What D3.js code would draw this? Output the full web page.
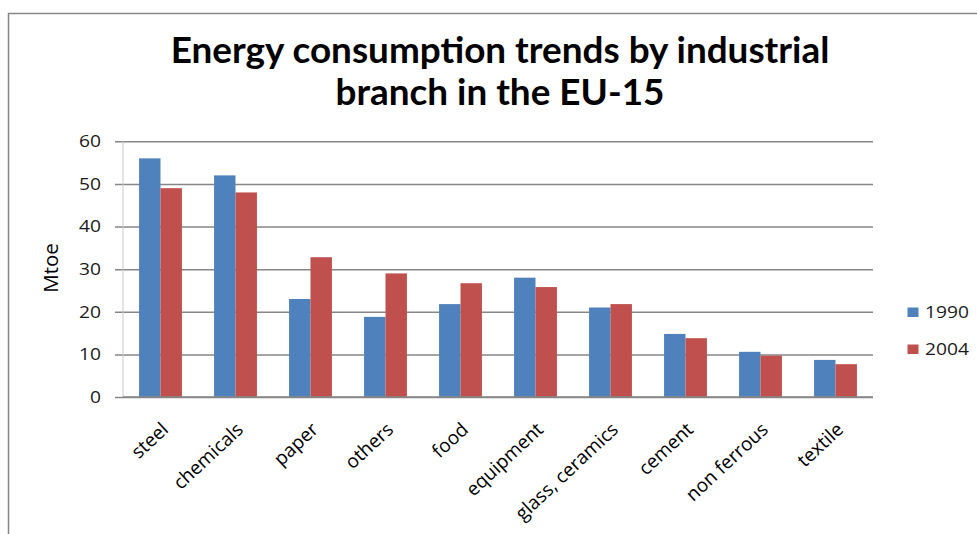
<!DOCTYPE html>
<html>
<head>
<meta charset="utf-8">
<script src="https://cdn.jsdelivr.net/npm/d3@7"></script>
<style>
  html, body { margin: 0; padding: 0; background: #ffffff; }
  svg { display: block; }
</style>
</head>
<body>
<script>
// Energy consumption by industrial branch, EU-15 (Mtoe)
const categories = ["steel", "chemicals", "paper", "others", "food", "equipment",
                    "glass, ceramics", "cement", "non ferrous", "textile"];
const values1990 = [56, 52, 23, 18.8, 21.8, 28, 21, 14.8, 10.6, 8.7];
const values2004 = [49, 48, 32.8, 29, 26.7, 25.8, 21.8, 13.8, 9.7, 7.7];
const seriesNames = ["1990", "2004"];
const yTicks = [0, 10, 20, 30, 40, 50, 60];
const titleLines = ["Energy consumption trends by industrial", "branch in the EU-15"];
const yAxisTitle = "Mtoe";

const W = 977, H = 534;
const colors = ["#4F81BD", "#C0504D"];
const gridColor = "#868686";
const textFont = "'Open Sans', sans-serif";

const svg = d3.select("body").append("svg")
  .attr("width", W).attr("height", H);

// outer chart frame
svg.append("rect")
  .attr("x", 8.5).attr("y", 13.5)
  .attr("width", 1000).attr("height", 600)
  .attr("fill", "#ffffff")
  .attr("stroke", gridColor).attr("stroke-width", 1.5);

// title
const title = svg.append("g");
const titleBaselines = [62.5, 104.5];
titleLines.forEach((t, i) => {
  title.append("text")
    .attr("x", 500).attr("y", titleBaselines[i])
    .attr("text-anchor", "middle")
    .attr("font-family", "Lato, sans-serif")
    .attr("font-weight", "bold")
    .attr("font-size", 31)
    .attr("fill", "#000000")
    .text(t);
});
// fit the first title line to its target width
const firstLine = title.select("text").node();
const w0 = firstLine.getComputedTextLength();
const titleSize = 31 * 659 / w0;
title.selectAll("text").attr("font-size", titleSize);

// plot area
const plot = { left: 123, right: 873, top: 141.3, bottom: 397 };

const x0 = d3.scaleBand()
  .domain(categories)
  .range([plot.left, plot.right])
  .paddingInner(0)
  .paddingOuter(0);

const innerPad = 0.75 / 3.5; // gap of 150% of bar width split on both sides
const x1 = d3.scaleBand()
  .domain(seriesNames)
  .range([x0.bandwidth() * innerPad, x0.bandwidth() * (1 - innerPad)]);

const y = d3.scaleLinear().domain([0, 60]).range([plot.bottom, plot.top]);

// gridlines with outward tick marks
const yAxis = d3.axisLeft(y)
  .tickValues(yTicks)
  .tickSize(-(plot.right - plot.left + 8))
  .tickFormat("");
const gy = svg.append("g")
  .attr("transform", `translate(${plot.left - 8},0)`)
  .call(yAxis);
gy.select(".domain").remove();
gy.selectAll(".tick line")
  .attr("stroke", gridColor).attr("stroke-width", 1.5);

// vertical value axis line
svg.append("line")
  .attr("x1", plot.left).attr("x2", plot.left)
  .attr("y1", plot.top).attr("y2", plot.bottom)
  .attr("stroke", "#c8c8c8").attr("stroke-width", 1);

// y tick labels
yTicks.forEach(v => {
  svg.append("g")
    .attr("transform", `translate(101,${y(v)}) scale(1.2,1)`)
    .append("text")
    .attr("text-anchor", "end")
    .attr("dy", "0.36em")
    .attr("font-family", textFont)
    .attr("font-size", 16)
    .attr("fill", "#1a1a1a")
    .text(v);
});

// y axis title
svg.append("text")
  .attr("transform", `translate(58,268) rotate(-90)`)
  .attr("text-anchor", "middle")
  .attr("font-family", textFont)
  .attr("font-size", 20.5)
  .attr("fill", "#000000")
  .text(yAxisTitle);

// bars
const series = [values1990, values2004];
const groups = svg.append("g").selectAll("g")
  .data(categories)
  .join("g")
  .attr("transform", d => `translate(${x0(d)},0)`);

groups.selectAll("rect")
  .data((d, i) => seriesNames.map((s, k) => ({ s, k, v: series[k][i] })))
  .join("rect")
  .attr("x", d => x1(d.s))
  .attr("width", x1.bandwidth())
  .attr("y", d => y(d.v))
  .attr("height", d => y(0) - y(d.v))
  .attr("fill", d => colors[d.k]);

// category axis line
svg.append("line")
  .attr("x1", plot.left).attr("x2", plot.right)
  .attr("y1", plot.bottom).attr("y2", plot.bottom)
  .attr("stroke", gridColor).attr("stroke-width", 1.5);

// category labels, rotated
categories.forEach(c => {
  const cx = x0(c) + x0.bandwidth() / 2;
  svg.append("text")
    .attr("transform", `translate(${cx + 9},${431}) rotate(-43)`)
    .attr("text-anchor", "end")
    .attr("font-family", textFont)
    .attr("font-size", 19)
    .attr("fill", "#000000")
    .text(c);
});

// legend
const legendRows = [312, 349];
seriesNames.forEach((s, k) => {
  svg.append("rect")
    .attr("x", 907.5).attr("y", legendRows[k] - 4.5)
    .attr("width", 11).attr("height", 9.5)
    .attr("fill", colors[k]);
  svg.append("g")
    .attr("transform", `translate(925,${legendRows[k]}) scale(1.2,1)`)
    .append("text")
    .attr("dy", "0.36em")
    .attr("font-family", textFont)
    .attr("font-size", 16)
    .attr("fill", "#1a1a1a")
    .text(s);
});
</script>
</body>
</html>
